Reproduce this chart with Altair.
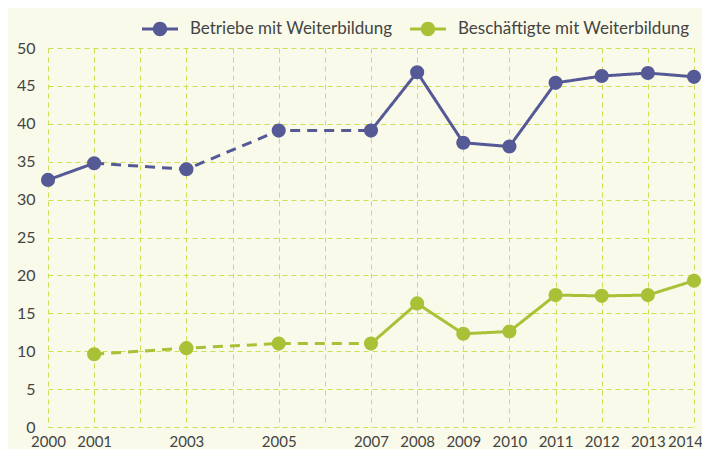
import altair as alt
import pandas as pd

years = [2000, 2001, 2003, 2005, 2007, 2008, 2009, 2010, 2011, 2012, 2013, 2014]
betriebe = [32.6, 34.8, 34.0, 39.1, 39.1, 46.8, 37.5, 37.0, 45.4, 46.3, 46.7, 46.2]
beschaeftigte = [None, 9.6, 10.4, 11.0, 11.0, 16.3, 12.3, 12.6, 17.4, 17.3, 17.4, 19.3]
series_names = ["Betriebe mit Weiterbildung", "Beschäftigte mit Weiterbildung"]
series_colors = ["#555a96", "#a9c137"]
grid_years = list(range(2000, 2015))

# segment definition: (start year, end year, style)
segments = [(2000, 2001, "solid"), (2001, 2007, "dashed"), (2007, 2014, "solid")]

point_rows = []
line_rows = []
for name, vals in zip(series_names, [betriebe, beschaeftigte]):
    for y, v in zip(years, vals):
        if v is None:
            continue
        point_rows.append({"Jahr": y, "Wert": v, "Reihe": name})
    for si, (a, b, style) in enumerate(segments):
        for y, v in zip(years, vals):
            if v is None or y < a or y > b:
                continue
            line_rows.append({"Jahr": y, "Wert": v, "Reihe": name,
                              "seg": f"{name}-{si}", "stil": style})

points = pd.DataFrame(point_rows)
lines = pd.DataFrame(line_rows)

font = "Lato"
text_color = "#444444"
grid_color = "#cddf55"

legend_path = ("M-1,-0.085 L1,-0.085 L1,0.085 L-1,0.085 Z "
               "M-0.4,0 A0.4,0.4 0 1,1 0.4,0 A0.4,0.4 0 1,1 -0.4,0 Z")

color_scale = alt.Scale(domain=series_names, range=series_colors)

x_enc = alt.X("Jahr:Q",
              scale=alt.Scale(domain=[2000, 2014], nice=False, zero=False),
              axis=alt.Axis(values=grid_years, title=None, format="d",
                            labelExpr="(datum.value == 2002 || datum.value == 2004 || datum.value == 2006) ? '' : datum.label",
                            labelOffset={"condition": {"test": "datum.value == 2014", "value": -9},
                                         "value": 0},
                            grid=True, gridDash=[5, 4], gridColor=grid_color, gridWidth=1,
                            domain=False, ticks=False, labelPadding=7,
                            labelFontSize=15, labelFont=font, labelColor=text_color,
                            labelFlush=False, labelOverlap=False))
y_enc = alt.Y("Wert:Q",
              scale=alt.Scale(domain=[0, 50], nice=False),
              axis=alt.Axis(values=list(range(0, 51, 5)), title=None,
                            grid=True, gridDash=[5, 4], gridColor=grid_color, gridWidth=1,
                            domain=False, ticks=False, labelPadding=13,
                            labelFontSize=16, labelFont=font, labelColor=text_color))

line_layer = alt.Chart(lines).mark_line(strokeWidth=3).encode(
    x=x_enc, y=y_enc,
    color=alt.Color("Reihe:N", scale=color_scale,
                    legend=alt.Legend(title=None, orient="none", direction="horizontal",
                                      legendX=94, legendY=-37,
                                      symbolType=legend_path, symbolSize=1296,
                                      symbolStrokeWidth=0, symbolOpacity=1,
                                      labelFont=font, labelFontSize=17, labelLimit=400,
                                      labelColor=text_color, labelOffset=12,
                                      columnPadding=17)),
    detail="seg:N",
    strokeDash=alt.StrokeDash("stil:N",
                              scale=alt.Scale(domain=["solid", "dashed"],
                                              range=[[1, 0], [10, 7]]),
                              legend=None),
)

point_layer = alt.Chart(points).mark_point(filled=True, size=200, opacity=1).encode(
    x=x_enc, y=y_enc,
    color=alt.Color("Reihe:N", scale=color_scale),
)

chart = alt.layer(line_layer, point_layer).properties(
    width=646, height=379,
    autosize=alt.AutoSizeParams(type="none"),
    padding={"left": 40, "top": 40, "right": 8, "bottom": 22},
    background="#f9faea",
).configure_view(stroke=None)

chart.save("out.html", embed_options={"renderer": "svg", "actions": False})
